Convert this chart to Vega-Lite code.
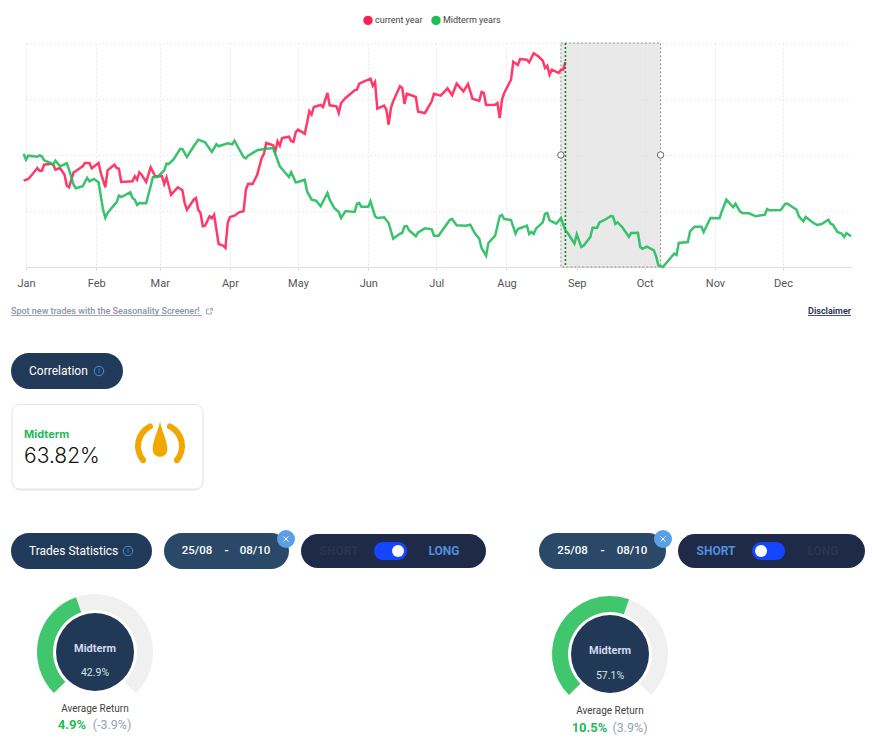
{"$schema":"https://vega.github.io/schema/vega-lite/v6.json","background":"#ffffff","padding":{"left":10,"top":15,"right":0,"bottom":0},"autosize":{"type":"pad"},"bounds":"flush","spacing":23,"config":{"view":{"stroke":null},"font":"Roboto"},
"vconcat":[
{"width":825,"height":224,
"layer":[
{"data":{"values":[{"start":"2022-08-25","end":"2022-10-08"}]},"mark":{"type":"rect","fill":"#e0e0e0","fillOpacity":0.72,"stroke":"#8f8f8f","strokeWidth":1,"strokeDash":[2,2]},"encoding":{"x":{"field":"start","type":"temporal","title":null,"scale":{"type":"utc","nice":false,"domain":[{"year":2022,"month":1,"date":1,"utc":true},{"year":2022,"month":12,"date":31,"utc":true}]},"axis":{"format":"%b","tickCount":"month","grid":true,"gridDash":[2,2],"gridColor":"#e8e8e8","tickColor":"#dddddd","tickSize":3,"domainColor":"#dddddd","labelFont":"Roboto","labelFontSize":11,"labelColor":"#555555","labelPadding":7,"labelFlush":false,"title":null}},"x2":{"field":"end"}}},
{"data":{"values":[
{"date":"2021-12-31","series":"current year","value":86.3},{"date":"2022-01-02","series":"current year","value":88},{"date":"2022-01-04","series":"current year","value":93.3},{"date":"2022-01-06","series":"current year","value":99},{"date":"2022-01-07","series":"current year","value":96.3},{"date":"2022-01-08","series":"current year","value":96.3},{"date":"2022-01-09","series":"current year","value":102.3},{"date":"2022-01-12","series":"current year","value":103.3},{"date":"2022-01-13","series":"current year","value":102.3},{"date":"2022-01-14","series":"current year","value":97.3},{"date":"2022-01-16","series":"current year","value":99},{"date":"2022-01-18","series":"current year","value":92.3},{"date":"2022-01-19","series":"current year","value":81.3},{"date":"2022-01-20","series":"current year","value":79.7},{"date":"2022-01-22","series":"current year","value":94.7},{"date":"2022-01-23","series":"current year","value":96},{"date":"2022-01-26","series":"current year","value":100.7},{"date":"2022-01-27","series":"current year","value":104},{"date":"2022-01-29","series":"current year","value":104},{"date":"2022-01-30","series":"current year","value":98.7},{"date":"2022-02-02","series":"current year","value":104},{"date":"2022-02-03","series":"current year","value":94},{"date":"2022-02-05","series":"current year","value":79.7},{"date":"2022-02-06","series":"current year","value":96.7},{"date":"2022-02-09","series":"current year","value":102.3},{"date":"2022-02-10","series":"current year","value":99},{"date":"2022-02-11","series":"current year","value":98.3},{"date":"2022-02-12","series":"current year","value":85},{"date":"2022-02-17","series":"current year","value":85.7},{"date":"2022-02-18","series":"current year","value":90.7},{"date":"2022-02-19","series":"current year","value":87.3},{"date":"2022-02-20","series":"current year","value":94.7},{"date":"2022-02-21","series":"current year","value":92.3},{"date":"2022-02-23","series":"current year","value":85},{"date":"2022-02-25","series":"current year","value":99.7},{"date":"2022-02-27","series":"current year","value":90.7},{"date":"2022-03-02","series":"current year","value":90.7},{"date":"2022-03-03","series":"current year","value":83},{"date":"2022-03-04","series":"current year","value":89.7},{"date":"2022-03-06","series":"current year","value":72.3},{"date":"2022-03-09","series":"current year","value":79.7},{"date":"2022-03-11","series":"current year","value":76.7},{"date":"2022-03-12","series":"current year","value":64},{"date":"2022-03-13","series":"current year","value":57.3},{"date":"2022-03-16","series":"current year","value":67.3},{"date":"2022-03-17","series":"current year","value":69},{"date":"2022-03-18","series":"current year","value":57.3},{"date":"2022-03-19","series":"current year","value":54},{"date":"2022-03-20","series":"current year","value":40.7},{"date":"2022-03-21","series":"current year","value":41.3},{"date":"2022-03-23","series":"current year","value":50.7},{"date":"2022-03-24","series":"current year","value":48.7},{"date":"2022-03-25","series":"current year","value":52.3},{"date":"2022-03-27","series":"current year","value":23},{"date":"2022-03-29","series":"current year","value":21.3},{"date":"2022-03-30","series":"current year","value":19},{"date":"2022-03-31","series":"current year","value":44},{"date":"2022-04-01","series":"current year","value":50},{"date":"2022-04-03","series":"current year","value":51.3},{"date":"2022-04-05","series":"current year","value":54.7},{"date":"2022-04-07","series":"current year","value":55.7},{"date":"2022-04-08","series":"current year","value":77.3},{"date":"2022-04-09","series":"current year","value":83.3},{"date":"2022-04-11","series":"current year","value":83},{"date":"2022-04-13","series":"current year","value":92.3},{"date":"2022-04-15","series":"current year","value":109},{"date":"2022-04-16","series":"current year","value":113.3},{"date":"2022-04-17","series":"current year","value":124},{"date":"2022-04-20","series":"current year","value":121.7},{"date":"2022-04-21","series":"current year","value":115.7},{"date":"2022-04-22","series":"current year","value":125.7},{"date":"2022-04-23","series":"current year","value":121.3},{"date":"2022-04-24","series":"current year","value":129},{"date":"2022-04-27","series":"current year","value":130.3},{"date":"2022-04-28","series":"current year","value":125.7},{"date":"2022-04-29","series":"current year","value":125},{"date":"2022-04-30","series":"current year","value":134.7},{"date":"2022-05-01","series":"current year","value":137.3},{"date":"2022-05-04","series":"current year","value":133.3},{"date":"2022-05-05","series":"current year","value":144},{"date":"2022-05-06","series":"current year","value":155.7},{"date":"2022-05-07","series":"current year","value":152.3},{"date":"2022-05-08","series":"current year","value":160},{"date":"2022-05-11","series":"current year","value":162},{"date":"2022-05-12","series":"current year","value":160},{"date":"2022-05-14","series":"current year","value":174},{"date":"2022-05-15","series":"current year","value":161.7},{"date":"2022-05-18","series":"current year","value":160.7},{"date":"2022-05-19","series":"current year","value":154},{"date":"2022-05-20","series":"current year","value":164},{"date":"2022-05-22","series":"current year","value":169},{"date":"2022-05-26","series":"current year","value":176.7},{"date":"2022-05-27","series":"current year","value":177.3},{"date":"2022-05-28","series":"current year","value":183.3},{"date":"2022-05-31","series":"current year","value":186.3},{"date":"2022-06-02","series":"current year","value":188.3},{"date":"2022-06-03","series":"current year","value":181.3},{"date":"2022-06-04","series":"current year","value":185},{"date":"2022-06-05","series":"current year","value":158.3},{"date":"2022-06-08","series":"current year","value":161.3},{"date":"2022-06-09","series":"current year","value":157.3},{"date":"2022-06-10","series":"current year","value":142.3},{"date":"2022-06-11","series":"current year","value":159},{"date":"2022-06-12","series":"current year","value":165.7},{"date":"2022-06-15","series":"current year","value":180.7},{"date":"2022-06-16","series":"current year","value":179},{"date":"2022-06-17","series":"current year","value":163},{"date":"2022-06-18","series":"current year","value":173.3},{"date":"2022-06-22","series":"current year","value":170},{"date":"2022-06-23","series":"current year","value":155.3},{"date":"2022-06-26","series":"current year","value":154},{"date":"2022-06-29","series":"current year","value":165.7},{"date":"2022-06-30","series":"current year","value":173.3},{"date":"2022-07-03","series":"current year","value":171.3},{"date":"2022-07-06","series":"current year","value":178.7},{"date":"2022-07-08","series":"current year","value":171.7},{"date":"2022-07-10","series":"current year","value":183.3},{"date":"2022-07-13","series":"current year","value":175.7},{"date":"2022-07-15","series":"current year","value":183},{"date":"2022-07-17","series":"current year","value":168.3},{"date":"2022-07-20","series":"current year","value":166},{"date":"2022-07-21","series":"current year","value":175},{"date":"2022-07-22","series":"current year","value":174},{"date":"2022-07-23","series":"current year","value":162},{"date":"2022-07-27","series":"current year","value":162.3},{"date":"2022-07-28","series":"current year","value":164},{"date":"2022-07-29","series":"current year","value":149},{"date":"2022-07-30","series":"current year","value":167.3},{"date":"2022-07-31","series":"current year","value":174},{"date":"2022-08-03","series":"current year","value":187.3},{"date":"2022-08-04","series":"current year","value":205.3},{"date":"2022-08-06","series":"current year","value":202},{"date":"2022-08-07","series":"current year","value":208},{"date":"2022-08-10","series":"current year","value":207.3},{"date":"2022-08-11","series":"current year","value":204.7},{"date":"2022-08-13","series":"current year","value":213.7},{"date":"2022-08-15","series":"current year","value":210.7},{"date":"2022-08-17","series":"current year","value":206.3},{"date":"2022-08-18","series":"current year","value":199},{"date":"2022-08-19","series":"current year","value":201.3},{"date":"2022-08-20","series":"current year","value":192.3},{"date":"2022-08-21","series":"current year","value":197.3},{"date":"2022-08-24","series":"current year","value":194},{"date":"2022-08-25","series":"current year","value":197.3},{"date":"2022-08-26","series":"current year","value":197.3},{"date":"2022-08-27","series":"current year","value":205},
{"date":"2021-12-31","series":"Midterm years","value":113.3},{"date":"2022-01-01","series":"Midterm years","value":107.3},{"date":"2022-01-02","series":"Midterm years","value":111.3},{"date":"2022-01-06","series":"Midterm years","value":110.3},{"date":"2022-01-07","series":"Midterm years","value":111.7},{"date":"2022-01-08","series":"Midterm years","value":110.7},{"date":"2022-01-09","series":"Midterm years","value":106.7},{"date":"2022-01-12","series":"Midterm years","value":104},{"date":"2022-01-13","series":"Midterm years","value":102.3},{"date":"2022-01-14","series":"Midterm years","value":106.3},{"date":"2022-01-16","series":"Midterm years","value":100.7},{"date":"2022-01-19","series":"Midterm years","value":103.7},{"date":"2022-01-20","series":"Midterm years","value":97.3},{"date":"2022-01-22","series":"Midterm years","value":82.3},{"date":"2022-01-23","series":"Midterm years","value":78.7},{"date":"2022-01-26","series":"Midterm years","value":80.7},{"date":"2022-01-28","series":"Midterm years","value":89},{"date":"2022-01-29","series":"Midterm years","value":85.7},{"date":"2022-01-31","series":"Midterm years","value":88},{"date":"2022-02-02","series":"Midterm years","value":84.7},{"date":"2022-02-04","series":"Midterm years","value":57.3},{"date":"2022-02-05","series":"Midterm years","value":49.3},{"date":"2022-02-06","series":"Midterm years","value":54},{"date":"2022-02-09","series":"Midterm years","value":62.3},{"date":"2022-02-10","series":"Midterm years","value":64.7},{"date":"2022-02-11","series":"Midterm years","value":71.3},{"date":"2022-02-12","series":"Midterm years","value":70},{"date":"2022-02-16","series":"Midterm years","value":74.7},{"date":"2022-02-17","series":"Midterm years","value":69},{"date":"2022-02-18","series":"Midterm years","value":67.3},{"date":"2022-02-19","series":"Midterm years","value":62},{"date":"2022-02-20","series":"Midterm years","value":64},{"date":"2022-02-23","series":"Midterm years","value":63.7},{"date":"2022-02-25","series":"Midterm years","value":80.7},{"date":"2022-02-26","series":"Midterm years","value":89.7},{"date":"2022-02-28","series":"Midterm years","value":90},{"date":"2022-03-03","series":"Midterm years","value":96.7},{"date":"2022-03-04","series":"Midterm years","value":103.3},{"date":"2022-03-05","series":"Midterm years","value":103},{"date":"2022-03-07","series":"Midterm years","value":107.3},{"date":"2022-03-10","series":"Midterm years","value":118},{"date":"2022-03-11","series":"Midterm years","value":118},{"date":"2022-03-13","series":"Midterm years","value":110},{"date":"2022-03-16","series":"Midterm years","value":120.7},{"date":"2022-03-18","series":"Midterm years","value":127.3},{"date":"2022-03-21","series":"Midterm years","value":124.7},{"date":"2022-03-24","series":"Midterm years","value":115},{"date":"2022-03-26","series":"Midterm years","value":122.7},{"date":"2022-03-27","series":"Midterm years","value":120.7},{"date":"2022-03-31","series":"Midterm years","value":123.7},{"date":"2022-04-02","series":"Midterm years","value":122.7},{"date":"2022-04-03","series":"Midterm years","value":126.3},{"date":"2022-04-05","series":"Midterm years","value":118},{"date":"2022-04-07","series":"Midterm years","value":110},{"date":"2022-04-08","series":"Midterm years","value":108.7},{"date":"2022-04-09","series":"Midterm years","value":111.3},{"date":"2022-04-13","series":"Midterm years","value":116.7},{"date":"2022-04-17","series":"Midterm years","value":118.3},{"date":"2022-04-20","series":"Midterm years","value":119},{"date":"2022-04-23","series":"Midterm years","value":100.7},{"date":"2022-04-25","series":"Midterm years","value":95.3},{"date":"2022-04-27","series":"Midterm years","value":90},{"date":"2022-04-28","series":"Midterm years","value":94.7},{"date":"2022-04-30","series":"Midterm years","value":84.7},{"date":"2022-05-01","series":"Midterm years","value":85},{"date":"2022-05-04","series":"Midterm years","value":87.3},{"date":"2022-05-05","series":"Midterm years","value":75.7},{"date":"2022-05-07","series":"Midterm years","value":67.3},{"date":"2022-05-09","series":"Midterm years","value":66.3},{"date":"2022-05-11","series":"Midterm years","value":60.7},{"date":"2022-05-14","series":"Midterm years","value":74},{"date":"2022-05-15","series":"Midterm years","value":67.3},{"date":"2022-05-17","series":"Midterm years","value":59},{"date":"2022-05-19","series":"Midterm years","value":55},{"date":"2022-05-20","series":"Midterm years","value":49},{"date":"2022-05-22","series":"Midterm years","value":56},{"date":"2022-05-26","series":"Midterm years","value":55},{"date":"2022-05-27","series":"Midterm years","value":63.3},{"date":"2022-05-28","series":"Midterm years","value":64},{"date":"2022-05-29","series":"Midterm years","value":60.3},{"date":"2022-06-01","series":"Midterm years","value":60.3},{"date":"2022-06-02","series":"Midterm years","value":65.7},{"date":"2022-06-04","series":"Midterm years","value":50.7},{"date":"2022-06-05","series":"Midterm years","value":49},{"date":"2022-06-08","series":"Midterm years","value":49.7},{"date":"2022-06-10","series":"Midterm years","value":44},{"date":"2022-06-12","series":"Midterm years","value":28.3},{"date":"2022-06-15","series":"Midterm years","value":33.3},{"date":"2022-06-16","series":"Midterm years","value":34},{"date":"2022-06-17","series":"Midterm years","value":40.7},{"date":"2022-06-18","series":"Midterm years","value":41},{"date":"2022-06-19","series":"Midterm years","value":36.7},{"date":"2022-06-22","series":"Midterm years","value":30.7},{"date":"2022-06-23","series":"Midterm years","value":34.7},{"date":"2022-06-26","series":"Midterm years","value":38.7},{"date":"2022-06-29","series":"Midterm years","value":37.7},{"date":"2022-06-30","series":"Midterm years","value":31.3},{"date":"2022-07-02","series":"Midterm years","value":31.3},{"date":"2022-07-05","series":"Midterm years","value":40.7},{"date":"2022-07-07","series":"Midterm years","value":47.3},{"date":"2022-07-08","series":"Midterm years","value":48},{"date":"2022-07-10","series":"Midterm years","value":41.7},{"date":"2022-07-14","series":"Midterm years","value":41.3},{"date":"2022-07-16","series":"Midterm years","value":42.3},{"date":"2022-07-18","series":"Midterm years","value":34},{"date":"2022-07-20","series":"Midterm years","value":28.3},{"date":"2022-07-21","series":"Midterm years","value":19},{"date":"2022-07-23","series":"Midterm years","value":11.3},{"date":"2022-07-24","series":"Midterm years","value":24},{"date":"2022-07-27","series":"Midterm years","value":31.3},{"date":"2022-07-29","series":"Midterm years","value":50.7},{"date":"2022-07-30","series":"Midterm years","value":52},{"date":"2022-07-31","series":"Midterm years","value":48},{"date":"2022-08-03","series":"Midterm years","value":47},{"date":"2022-08-05","series":"Midterm years","value":33.3},{"date":"2022-08-06","series":"Midterm years","value":38},{"date":"2022-08-10","series":"Midterm years","value":41.3},{"date":"2022-08-11","series":"Midterm years","value":33},{"date":"2022-08-12","series":"Midterm years","value":35},{"date":"2022-08-13","series":"Midterm years","value":33},{"date":"2022-08-14","series":"Midterm years","value":38.3},{"date":"2022-08-17","series":"Midterm years","value":44.7},{"date":"2022-08-18","series":"Midterm years","value":53.3},{"date":"2022-08-19","series":"Midterm years","value":54},{"date":"2022-08-20","series":"Midterm years","value":46.7},{"date":"2022-08-23","series":"Midterm years","value":43.3},{"date":"2022-08-25","series":"Midterm years","value":49},{"date":"2022-08-27","series":"Midterm years","value":36.7},{"date":"2022-08-28","series":"Midterm years","value":34},{"date":"2022-08-31","series":"Midterm years","value":23.3},{"date":"2022-09-01","series":"Midterm years","value":32.7},{"date":"2022-09-03","series":"Midterm years","value":20},{"date":"2022-09-04","series":"Midterm years","value":21.3},{"date":"2022-09-07","series":"Midterm years","value":30},{"date":"2022-09-08","series":"Midterm years","value":39.3},{"date":"2022-09-10","series":"Midterm years","value":39.3},{"date":"2022-09-11","series":"Midterm years","value":44.7},{"date":"2022-09-14","series":"Midterm years","value":48},{"date":"2022-09-16","series":"Midterm years","value":51},{"date":"2022-09-17","series":"Midterm years","value":50.7},{"date":"2022-09-18","series":"Midterm years","value":43},{"date":"2022-09-19","series":"Midterm years","value":44.7},{"date":"2022-09-21","series":"Midterm years","value":40},{"date":"2022-09-24","series":"Midterm years","value":30.3},{"date":"2022-09-25","series":"Midterm years","value":34},{"date":"2022-09-28","series":"Midterm years","value":34.3},{"date":"2022-09-29","series":"Midterm years","value":20},{"date":"2022-09-30","series":"Midterm years","value":18.3},{"date":"2022-10-02","series":"Midterm years","value":20.3},{"date":"2022-10-05","series":"Midterm years","value":16.7},{"date":"2022-10-06","series":"Midterm years","value":10.7},{"date":"2022-10-07","series":"Midterm years","value":1.7},{"date":"2022-10-09","series":"Midterm years","value":0},{"date":"2022-10-13","series":"Midterm years","value":10.7},{"date":"2022-10-14","series":"Midterm years","value":13.3},{"date":"2022-10-15","series":"Midterm years","value":12},{"date":"2022-10-16","series":"Midterm years","value":24},{"date":"2022-10-20","series":"Midterm years","value":25},{"date":"2022-10-21","series":"Midterm years","value":35.7},{"date":"2022-10-23","series":"Midterm years","value":40.3},{"date":"2022-10-26","series":"Midterm years","value":40.3},{"date":"2022-10-27","series":"Midterm years","value":35},{"date":"2022-10-30","series":"Midterm years","value":49},{"date":"2022-11-03","series":"Midterm years","value":48.7},{"date":"2022-11-04","series":"Midterm years","value":55.7},{"date":"2022-11-06","series":"Midterm years","value":67.3},{"date":"2022-11-09","series":"Midterm years","value":59.7},{"date":"2022-11-10","series":"Midterm years","value":63.3},{"date":"2022-11-12","series":"Midterm years","value":55.7},{"date":"2022-11-13","series":"Midterm years","value":54},{"date":"2022-11-16","series":"Midterm years","value":53.7},{"date":"2022-11-19","series":"Midterm years","value":50.7},{"date":"2022-11-23","series":"Midterm years","value":52.3},{"date":"2022-11-24","series":"Midterm years","value":58},{"date":"2022-11-25","series":"Midterm years","value":56.7},{"date":"2022-11-30","series":"Midterm years","value":57},{"date":"2022-12-02","series":"Midterm years","value":63.3},{"date":"2022-12-03","series":"Midterm years","value":63.3},{"date":"2022-12-07","series":"Midterm years","value":57.3},{"date":"2022-12-08","series":"Midterm years","value":50.7},{"date":"2022-12-10","series":"Midterm years","value":45.7},{"date":"2022-12-11","series":"Midterm years","value":50},{"date":"2022-12-14","series":"Midterm years","value":44.7},{"date":"2022-12-16","series":"Midterm years","value":42},{"date":"2022-12-18","series":"Midterm years","value":43},{"date":"2022-12-21","series":"Midterm years","value":47.3},{"date":"2022-12-22","series":"Midterm years","value":43.3},{"date":"2022-12-23","series":"Midterm years","value":42.3},{"date":"2022-12-25","series":"Midterm years","value":35},{"date":"2022-12-27","series":"Midterm years","value":33.3},{"date":"2022-12-28","series":"Midterm years","value":30},{"date":"2022-12-29","series":"Midterm years","value":34},{"date":"2022-12-31","series":"Midterm years","value":30.7}
]},"mark":{"type":"line","strokeWidth":2.5,"opacity":0.88,"interpolate":"linear"},"encoding":{"x":{"field":"date","type":"temporal","title":null},"y":{"field":"value","type":"quantitative","title":null,"scale":{"domain":[0,224],"nice":false,"zero":false},"axis":{"values":[0,56,112,168,224],"labels":false,"ticks":false,"domain":false,"grid":true,"gridDash":[2,2],"gridColor":"#e8e8e8","title":null}},"color":{"field":"series","type":"nominal","sort":null,"scale":{"domain":["current year","Midterm years"],"range":["#ff1f54","#1fbb59"]},"legend":{"title":null,"orient":"none","legendX":337,"legendY":-28,"direction":"horizontal","columns":2,"symbolType":"circle","symbolSize":20,"symbolStrokeWidth":5,"symbolOpacity":1,"labelFont":"Roboto","labelFontSize":9,"labelColor":"#444444","labelOffset":2,"columnPadding":0,"padding":0}}}},
{"data":{"values":[{"date":"2022-08-27"}]},"mark":{"type":"rule","color":"#0a8a1a","strokeWidth":1.6,"strokeDash":[2,2]},"encoding":{"x":{"field":"date","type":"temporal","title":null}}},
{"data":{"values":[{"date":"2022-08-25","value":112},{"date":"2022-10-08","value":112}]},"mark":{"type":"point","shape":"circle","filled":true,"fill":"#ffffff","stroke":"#666666","strokeWidth":1,"size":42,"opacity":1},"encoding":{"x":{"field":"date","type":"temporal","title":null},"y":{"field":"value","type":"quantitative","title":null}}}
]},
{"width":850,"height":455,"data":{"values":[{"panel":"dashboard"}]},
"layer":[
{"mark":{"type":"text","text":"Spot new trades with the Seasonality Screener!","align":"left","baseline":"middle","font":"Roboto","fontWeight":500,"fontSize":9,"color":"#8b93a8"},"encoding":{"x":{"datum":11,"axis":null,"scale":{"domain":[26,876],"nice":false,"zero":false}},"y":{"datum":311,"axis":null,"scale":{"domain":[745,290],"nice":false,"zero":false}}}},
{"mark":{"type":"rule","color":"#8b93a8","strokeWidth":0.8},"encoding":{"x":{"datum":11},"x2":{"datum":202},"y":{"datum":315.5}}},
{"mark":{"type":"point","shape":"M0.2,-0.8H1V0M1,-1L0,0M-0.2,-0.6H-1V1H0.6V0.2","filled":false,"stroke":"#8b93a8","strokeWidth":0.8,"size":36,"opacity":1},"encoding":{"x":{"datum":209.5},"y":{"datum":311}}},
{"mark":{"type":"text","text":"Disclaimer","align":"right","baseline":"middle","font":"Roboto","fontWeight":600,"fontSize":9,"color":"#1d2a47"},"encoding":{"x":{"datum":851},"y":{"datum":311}}},
{"mark":{"type":"rule","color":"#1d2a47","strokeWidth":0.8},"encoding":{"x":{"datum":808},"x2":{"datum":851},"y":{"datum":315.5}}},
{"mark":{"type":"rect","fill":"#223a5a","cornerRadius":18},"encoding":{"x":{"datum":11},"x2":{"datum":123},"y":{"datum":353},"y2":{"datum":389}}},
{"mark":{"type":"text","text":"Correlation","align":"left","baseline":"middle","font":"Roboto","fontSize":12,"color":"#ffffff"},"encoding":{"x":{"datum":29},"y":{"datum":371}}},
{"mark":{"type":"point","shape":"circle","filled":false,"stroke":"#4a90d9","strokeWidth":1,"size":90,"opacity":1},"encoding":{"x":{"datum":99},"y":{"datum":371}}},
{"mark":{"type":"text","text":"i","align":"center","baseline":"middle","fontSize":7,"color":"#4a90d9"},"encoding":{"x":{"datum":99},"y":{"datum":371}}},
{"mark":{"type":"rect","fill":"#000000","opacity":0.06,"cornerRadius":9},"encoding":{"x":{"datum":11.5},"x2":{"datum":203.5},"y":{"datum":405},"y2":{"datum":491}}},
{"mark":{"type":"rect","fill":"#ffffff","stroke":"#e4e4e4","strokeWidth":1,"cornerRadius":8},"encoding":{"x":{"datum":12},"x2":{"datum":203},"y":{"datum":404.5},"y2":{"datum":489}}},
{"mark":{"type":"text","text":"Midterm","align":"left","baseline":"middle","font":"Inter","fontWeight":700,"fontSize":11,"color":"#1fbb59"},"encoding":{"x":{"datum":24},"y":{"datum":435}}},
{"mark":{"type":"text","text":"63.82%","align":"left","baseline":"middle","font":"Inter","fontWeight":300,"fontSize":21,"color":"#111111"},"encoding":{"x":{"datum":24},"y":{"datum":457}}},
{"mark":{"type":"arc","theta":-2.41,"theta2":-0.33,"innerRadius":19,"outerRadius":25,"cornerRadius":3,"fill":"#f0a800"},"encoding":{"x":{"datum":160},"y":{"datum":446}}},
{"mark":{"type":"arc","theta":0.33,"theta2":2.41,"innerRadius":19,"outerRadius":25,"cornerRadius":3,"fill":"#f0a800"},"encoding":{"x":{"datum":160},"y":{"datum":446}}},
{"mark":{"type":"point","shape":"M0,-1C0.05,-0.6 0.41,0.1 0.41,0.58A0.41,0.41 0 1 1 -0.41,0.58C-0.41,0.1 -0.05,-0.6 0,-1Z","filled":true,"fill":"#f0a800","stroke":null,"size":1296,"opacity":1},"encoding":{"x":{"datum":160},"y":{"datum":439}}},
{"mark":{"type":"rect","fill":"#223a5a","cornerRadius":18},"encoding":{"x":{"datum":11},"x2":{"datum":152},"y":{"datum":533},"y2":{"datum":569}}},
{"mark":{"type":"text","text":"Trades Statistics","align":"left","baseline":"middle","font":"Roboto","fontSize":12,"color":"#ffffff"},"encoding":{"x":{"datum":29},"y":{"datum":551}}},
{"mark":{"type":"point","shape":"circle","filled":false,"stroke":"#4a90d9","strokeWidth":1,"size":90,"opacity":1},"encoding":{"x":{"datum":128},"y":{"datum":551}}},
{"mark":{"type":"text","text":"i","align":"center","baseline":"middle","fontSize":7,"color":"#4a90d9"},"encoding":{"x":{"datum":128},"y":{"datum":551}}},
{"mark":{"type":"rect","fill":"#2a4867","cornerRadius":18},"encoding":{"x":{"datum":164},"x2":{"datum":289},"y":{"datum":533},"y2":{"datum":569}}},
{"mark":{"type":"text","text":"25/08","align":"center","baseline":"middle","font":"Roboto","fontWeight":500,"fontSize":11.5,"color":"#ffffff"},"encoding":{"x":{"datum":197},"y":{"datum":551}}},
{"mark":{"type":"text","text":"-","align":"center","baseline":"middle","font":"Roboto","fontWeight":500,"fontSize":12,"color":"#ffffff"},"encoding":{"x":{"datum":226.5},"y":{"datum":551}}},
{"mark":{"type":"text","text":"08/10","align":"center","baseline":"middle","font":"Roboto","fontWeight":500,"fontSize":11.5,"color":"#ffffff"},"encoding":{"x":{"datum":255},"y":{"datum":551}}},
{"mark":{"type":"point","shape":"circle","filled":true,"fill":"#5b9fe6","stroke":null,"size":324,"opacity":1},"encoding":{"x":{"datum":286},"y":{"datum":539}}},
{"mark":{"type":"point","shape":"M-1,-1L1,1M1,-1L-1,1","filled":false,"stroke":"#ffffff","strokeWidth":1,"size":25,"opacity":1},"encoding":{"x":{"datum":286},"y":{"datum":539}}},
{"mark":{"type":"rect","fill":"#1e2a48","cornerRadius":17},"encoding":{"x":{"datum":301},"x2":{"datum":486},"y":{"datum":534},"y2":{"datum":568}}},
{"mark":{"type":"text","text":"SHORT","align":"center","baseline":"middle","font":"Roboto","fontWeight":700,"fontSize":12,"color":"#2a3550"},"encoding":{"x":{"datum":339},"y":{"datum":551}}},
{"mark":{"type":"rect","fill":"#1446ff","cornerRadius":9},"encoding":{"x":{"datum":374},"x2":{"datum":407},"y":{"datum":542},"y2":{"datum":560}}},
{"mark":{"type":"point","shape":"circle","filled":true,"fill":"#ffffff","stroke":null,"size":144,"opacity":1},"encoding":{"x":{"datum":398},"y":{"datum":551}}},
{"mark":{"type":"text","text":"LONG","align":"center","baseline":"middle","font":"Roboto","fontWeight":700,"fontSize":12,"color":"#4f8fdc"},"encoding":{"x":{"datum":444},"y":{"datum":551}}},
{"mark":{"type":"rect","fill":"#2a4867","cornerRadius":18},"encoding":{"x":{"datum":539},"x2":{"datum":666},"y":{"datum":533},"y2":{"datum":569}}},
{"mark":{"type":"text","text":"25/08","align":"center","baseline":"middle","font":"Roboto","fontWeight":500,"fontSize":11.5,"color":"#ffffff"},"encoding":{"x":{"datum":572.5},"y":{"datum":551}}},
{"mark":{"type":"text","text":"-","align":"center","baseline":"middle","font":"Roboto","fontWeight":500,"fontSize":12,"color":"#ffffff"},"encoding":{"x":{"datum":602.5},"y":{"datum":551}}},
{"mark":{"type":"text","text":"08/10","align":"center","baseline":"middle","font":"Roboto","fontWeight":500,"fontSize":11.5,"color":"#ffffff"},"encoding":{"x":{"datum":632},"y":{"datum":551}}},
{"mark":{"type":"point","shape":"circle","filled":true,"fill":"#5b9fe6","stroke":null,"size":324,"opacity":1},"encoding":{"x":{"datum":663},"y":{"datum":539}}},
{"mark":{"type":"point","shape":"M-1,-1L1,1M1,-1L-1,1","filled":false,"stroke":"#ffffff","strokeWidth":1,"size":25,"opacity":1},"encoding":{"x":{"datum":663},"y":{"datum":539}}},
{"mark":{"type":"rect","fill":"#1e2a48","cornerRadius":17},"encoding":{"x":{"datum":678},"x2":{"datum":865},"y":{"datum":534},"y2":{"datum":568}}},
{"mark":{"type":"text","text":"SHORT","align":"center","baseline":"middle","font":"Roboto","fontWeight":700,"fontSize":12,"color":"#4f8fdc"},"encoding":{"x":{"datum":716},"y":{"datum":551}}},
{"mark":{"type":"rect","fill":"#1446ff","cornerRadius":9},"encoding":{"x":{"datum":752},"x2":{"datum":785},"y":{"datum":542},"y2":{"datum":560}}},
{"mark":{"type":"point","shape":"circle","filled":true,"fill":"#ffffff","stroke":null,"size":144,"opacity":1},"encoding":{"x":{"datum":761},"y":{"datum":551}}},
{"mark":{"type":"text","text":"LONG","align":"center","baseline":"middle","font":"Roboto","fontWeight":700,"fontSize":12,"color":"#2a3550"},"encoding":{"x":{"datum":823},"y":{"datum":551}}},
{"data":{"values":[{"gauge":"LONG","from":0,"to":100}]},"mark":{"type":"arc","innerRadius":42,"outerRadius":58,"fill":"#f0f0f0"},"encoding":{"x":{"datum":95},"y":{"datum":652},"theta":{"field":"from","type":"quantitative","stack":null,"scale":{"domain":[0,100],"range":[-2.356,2.356]}},"theta2":{"field":"to"}}},
{"data":{"values":[{"gauge":"LONG","from":0,"to":42.9}]},"mark":{"type":"arc","innerRadius":42,"outerRadius":58,"fill":"#40c76d"},"encoding":{"x":{"datum":95},"y":{"datum":652},"theta":{"field":"from","type":"quantitative","stack":null,"scale":{"domain":[0,100],"range":[-2.356,2.356]}},"theta2":{"field":"to"}}},
{"mark":{"type":"point","shape":"circle","filled":true,"fill":"#223857","stroke":null,"size":6084,"opacity":1},"encoding":{"x":{"datum":95},"y":{"datum":652}}},
{"mark":{"type":"text","text":"Midterm","align":"center","baseline":"middle","font":"Roboto","fontWeight":700,"fontSize":11,"color":"#cfdcf0"},"encoding":{"x":{"datum":95},"y":{"datum":649}}},
{"mark":{"type":"text","text":"42.9%","align":"center","baseline":"middle","font":"Roboto","fontSize":10.5,"color":"#d8e2f0"},"encoding":{"x":{"datum":95},"y":{"datum":673}}},
{"mark":{"type":"text","text":"Average Return","align":"center","baseline":"middle","font":"Roboto","fontSize":10,"color":"#444444"},"encoding":{"x":{"datum":95},"y":{"datum":708.5}}},
{"mark":{"type":"text","text":"4.9%","align":"center","baseline":"middle","font":"Roboto","fontWeight":700,"fontSize":13,"color":"#1fbb59"},"encoding":{"x":{"datum":72},"y":{"datum":725}}},
{"mark":{"type":"text","text":"(-3.9%)","align":"center","baseline":"middle","font":"Roboto","fontSize":12.5,"color":"#9aa2b1"},"encoding":{"x":{"datum":112},"y":{"datum":725}}},
{"data":{"values":[{"gauge":"SHORT","from":0,"to":100}]},"mark":{"type":"arc","innerRadius":42,"outerRadius":58,"fill":"#f0f0f0"},"encoding":{"x":{"datum":610},"y":{"datum":654},"theta":{"field":"from","type":"quantitative","stack":null,"scale":{"domain":[0,100],"range":[-2.356,2.356]}},"theta2":{"field":"to"}}},
{"data":{"values":[{"gauge":"SHORT","from":0,"to":57.1}]},"mark":{"type":"arc","innerRadius":42,"outerRadius":58,"fill":"#40c76d"},"encoding":{"x":{"datum":610},"y":{"datum":654},"theta":{"field":"from","type":"quantitative","stack":null,"scale":{"domain":[0,100],"range":[-2.356,2.356]}},"theta2":{"field":"to"}}},
{"mark":{"type":"point","shape":"circle","filled":true,"fill":"#223857","stroke":null,"size":6084,"opacity":1},"encoding":{"x":{"datum":610},"y":{"datum":654}}},
{"mark":{"type":"text","text":"Midterm","align":"center","baseline":"middle","font":"Roboto","fontWeight":700,"fontSize":11,"color":"#cfdcf0"},"encoding":{"x":{"datum":610},"y":{"datum":651}}},
{"mark":{"type":"text","text":"57.1%","align":"center","baseline":"middle","font":"Roboto","fontSize":10.5,"color":"#d8e2f0"},"encoding":{"x":{"datum":610},"y":{"datum":675.5}}},
{"mark":{"type":"text","text":"Average Return","align":"center","baseline":"middle","font":"Roboto","fontSize":10,"color":"#444444"},"encoding":{"x":{"datum":610},"y":{"datum":711}}},
{"mark":{"type":"text","text":"10.5%","align":"center","baseline":"middle","font":"Roboto","fontWeight":700,"fontSize":13,"color":"#1fbb59"},"encoding":{"x":{"datum":589.5},"y":{"datum":727.5}}},
{"mark":{"type":"text","text":"(3.9%)","align":"center","baseline":"middle","font":"Roboto","fontSize":12.5,"color":"#9aa2b1"},"encoding":{"x":{"datum":630},"y":{"datum":727.5}}}
]}
]}
